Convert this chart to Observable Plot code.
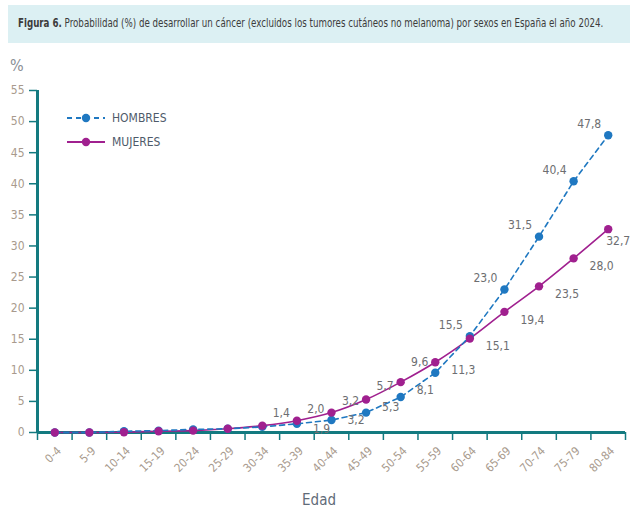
<!DOCTYPE html>
<html>
<head>
<meta charset="utf-8">
<script src="https://cdn.jsdelivr.net/npm/d3@7"></script>
<script src="https://cdn.jsdelivr.net/npm/@observablehq/plot@0.6"></script>
<style>
  html, body { margin: 0; padding: 0; background: #fff; }
  body { width: 638px; height: 514px; position: relative; overflow: hidden;
         font-family: "DejaVu Sans Condensed", "Liberation Sans Narrow", "Roboto", sans-serif; }
  #title { position: absolute; left: 8px; top: 5px; width: 622px; height: 38px;
           background: #dcf0f3; box-sizing: border-box; padding: 10px 0 0 10px;
           font-size: 12.8px; color: #3c3c3c; white-space: nowrap; overflow: hidden; }
  #title span { display: inline-block; transform: scaleX(0.755); transform-origin: left center; }
  #title b { font-weight: bold; }
  #pct { position: absolute; left: 10px; top: 56px; font-size: 16px; color: #8a8f96; }
  #chart { position: absolute; left: 0; top: 50px; }
  #legend { position: absolute; left: 66px; top: 106px; font-size: 12px; color: #4e5a6a; }
  #legend .row { display: flex; align-items: center; height: 24px; }
  #legend svg { margin-right: 6px; }
  #edad { position: absolute; left: 0; width: 638px; top: 491px; text-align: center;
          font-size: 15px; color: #5f6b78; }
</style>
</head>
<body>
<div id="title"><span><b>Figura 6.</b> Probabilidad (%) de desarrollar un cáncer (excluidos los tumores cutáneos no melanoma) por sexos en España el año 2024.</span></div>
<div id="pct">%</div>
<div id="chart"></div>
<div id="legend"></div>
<div id="edad">Edad</div>
<script>
const ages = ["0-4","5-9","10-14","15-19","20-24","25-29","30-34","35-39","40-44","45-49","50-54","55-59","60-64","65-69","70-74","75-79","80-84"];
const hombres = [0, 0, 0.2, 0.3, 0.5, 0.6, 0.9, 1.4, 2.0, 3.2, 5.7, 9.6, 15.5, 23.0, 31.5, 40.4, 47.8];
const mujeres = [0, 0, 0.05, 0.2, 0.3, 0.6, 1.1, 1.9, 3.2, 5.3, 8.1, 11.3, 15.1, 19.4, 23.5, 28.0, 32.7];
const labelFrom = 7; // labels shown from "35-39"
const yTicks = [0, 5, 10, 15, 20, 25, 30, 35, 40, 45, 50, 55];
const series = ["HOMBRES", "MUJERES"];

const colH = "#1f78c1", colM = "#a0208f", teal = "#137a80";
const tickCol = "#a89a8d", valCol = "#6d6e71";
const fmt = v => v.toFixed(1).replace(".", ",");

const dataH = ages.map((a, i) => ({i, age: a, v: hombres[i]}));
const dataM = ages.map((a, i) => ({i, age: a, v: mujeres[i]}));
const last = ages.length - 1;

const plot = Plot.plot({
  width: 638,
  height: 464,
  marginLeft: 37,
  marginRight: 13,
  marginTop: 40,
  marginBottom: 82,
  style: {fontFamily: '"DejaVu Sans Condensed", "Liberation Sans Narrow", sans-serif', fontSize: "12px", background: "transparent"},
  x: {type: "linear", domain: [-0.5, ages.length - 0.5], axis: null},
  y: {domain: [0, 55], axis: null},
  marks: [
    Plot.axisY({ticks: yTicks, tickSize: 8, tickPadding: 5, stroke: teal, strokeWidth: 1.5, color: tickCol, fill: tickCol, label: null, fontSize: 12}),
    Plot.axisX({ticks: d3.range(-0.5, ages.length, 1), tickSize: 8, tickFormat: () => "", stroke: teal, strokeWidth: 1.5, label: null}),
    Plot.text(ages.map((a, i) => ({i, a})), {x: "i", text: "a", frameAnchor: "bottom", rotate: -45, textAnchor: "end", dx: 7, dy: 19, fill: tickCol, fontSize: 11.5}),
    Plot.ruleX([-0.5], {stroke: teal, strokeWidth: 3}),
    Plot.ruleY([0], {stroke: teal, strokeWidth: 3, x1: -0.5, x2: ages.length - 0.5}),
    Plot.line(dataM, {x: "i", y: "v", stroke: colM, strokeWidth: 1.6, curve: "monotone-x"}),
    Plot.line(dataH, {x: "i", y: "v", stroke: colH, strokeWidth: 1.6, strokeDasharray: "5,4"}),
    Plot.dot(dataH, {x: "i", y: "v", r: 4.2, fill: colH}),
    Plot.dot(dataM, {x: "i", y: "v", r: 4.2, fill: colM}),
    Plot.text(dataH.filter(d => d.i >= labelFrom), {x: "i", y: "v", text: d => fmt(d.v), textAnchor: "end", dx: -7, dy: -11, fill: valCol, fontSize: 12}),
    Plot.text(dataM.filter(d => d.i >= labelFrom && d.i < last), {x: "i", y: "v", text: d => fmt(d.v), textAnchor: "start", dx: 16, dy: 8, fill: valCol, fontSize: 12}),
    Plot.text(dataM.filter(d => d.i === last), {x: "i", y: "v", text: d => fmt(d.v), textAnchor: "start", dx: -2, dy: 12, fill: valCol, fontSize: 12})
  ]
});
document.getElementById("chart").appendChild(plot);

const legend = document.getElementById("legend");
const legendStyles = {HOMBRES: {c: colH, dash: "5,4"}, MUJERES: {c: colM, dash: null}};
series.forEach(s => {
  const st = legendStyles[s];
  const row = document.createElement("div");
  row.className = "row";
  row.innerHTML = `<svg width="40" height="10"><line x1="1" x2="39" y1="5" y2="5" stroke="${st.c}" stroke-width="1.8" ${st.dash ? `stroke-dasharray="${st.dash}"` : ""}/><circle cx="20" cy="5" r="4.2" fill="${st.c}"/></svg><span>${s}</span>`;
  legend.appendChild(row);
});
</script>
</body>
</html>
